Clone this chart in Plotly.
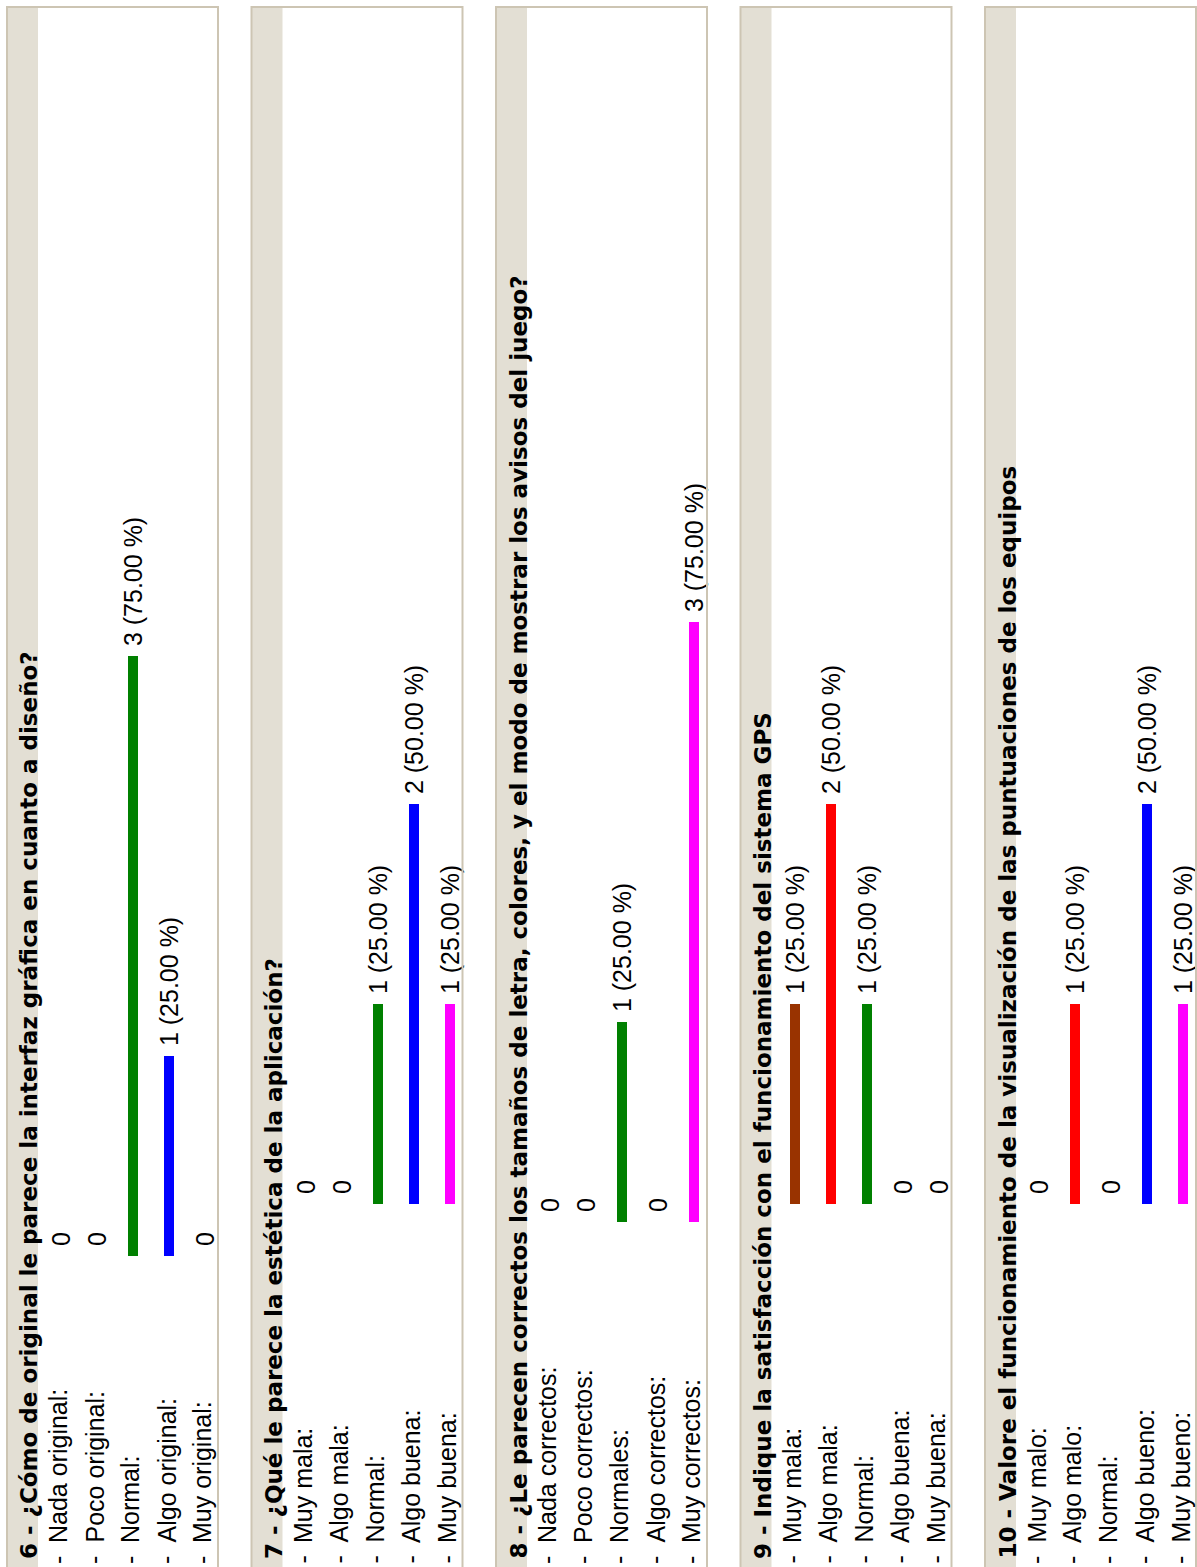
import plotly.graph_objects as go

W, H = 1197, 1567

# ---------------- data ----------------
titles = [
    "6 - ¿Cómo de original le parece la interfaz gráfica en cuanto a diseño?",
    "7 - ¿Qué le parece la estética de la aplicación?",
    "8 - ¿Le parecen correctos los tamaños de letra, colores, y el modo de mostrar los avisos del juego?",
    "9 - Indique la satisfacción con el funcionamiento del sistema GPS",
    "10 - Valore el funcionamiento de la visualización de las puntuaciones de los equipos",
]
cats_q6 = ["Nada original:", "Poco original:", "Normal:", "Algo original:", "Muy original:"]
cats_q7 = ["Muy mala:", "Algo mala:", "Normal:", "Algo buena:", "Muy buena:"]
cats_q8 = ["Nada correctos:", "Poco correctos:", "Normales:", "Algo correctos:", "Muy correctos:"]
cats_q9 = ["Muy mala:", "Algo mala:", "Normal:", "Algo buena:", "Muy buena:"]
cats_q10 = ["Muy malo:", "Algo malo:", "Normal:", "Algo bueno:", "Muy bueno:"]

counts_q6 = [0, 0, 3, 1, 0]
counts_q7 = [0, 0, 1, 2, 1]
counts_q8 = [0, 0, 1, 0, 3]
counts_q9 = [1, 2, 1, 0, 0]
counts_q10 = [0, 1, 0, 2, 1]

total_responses = 4
bar_colors = ["#993300", "#FF0000", "#008000", "#0000FF", "#FF00FF"]

all_cats = [cats_q6, cats_q7, cats_q8, cats_q9, cats_q10]
all_counts = [counts_q6, counts_q7, counts_q8, counts_q9, counts_q10]

# ---------------- layout geometry (pixels) ----------------
panel_left = [7, 251.5, 496, 740.5, 985]
panel_w = 211
band_w = 31
base_px = [1256, 1204, 1222, 1204, 1204]
px_per_unit = 200.0
cat_first = 54.0
cat_step = 36.0
label_bottom_px = 1545
dash_px = 1560
title_bottom_px = 1561

LABEL_FONT = dict(family="Liberation Sans, Arial, sans-serif", size=25, color="#000000")
TITLE_FONT = dict(family="DejaVu Sans, Verdana, sans-serif", size=23, color="#000000")
NB = "\u00a0"

def py(p):
    return 1 - p / H

fig = go.Figure()
shapes = []
annotations = []
layout_axes = {}

for i in range(5):
    n = i + 1
    xa = "x" if n == 1 else f"x{n}"
    ya = "y" if n == 1 else f"y{n}"
    L = panel_left[i]
    cats = all_cats[i]
    vals = all_counts[i]
    texts = []
    for v in vals:
        if v == 0:
            texts.append(NB + "0")
        else:
            texts.append(f"{NB}{v} ({v / total_responses * 100:.2f} %)")
    fig.add_trace(go.Bar(
        x=cats, y=vals, marker=dict(color=bar_colors, line=dict(width=0)),
        width=0.28, text=texts, textposition="outside", textangle=-90,
        textfont=LABEL_FONT, constraintext="none", cliponaxis=False,
        xaxis=xa, yaxis=ya, hoverinfo="skip", showlegend=False,
    ))
    x_lo = -cat_first / cat_step
    x_hi = (panel_w - cat_first) / cat_step
    B = base_px[i]
    layout_axes["xaxis" if n == 1 else f"xaxis{n}"] = dict(
        domain=[L / W, (L + panel_w) / W], range=[x_lo, x_hi], visible=False,
        anchor=ya, type="category", fixedrange=True)
    layout_axes["yaxis" if n == 1 else f"yaxis{n}"] = dict(
        domain=[0, 1], range=[-(H - B) / px_per_unit, B / px_per_unit], visible=False,
        anchor=xa, fixedrange=True)

    # panel frame and title band
    shapes.append(dict(type="rect", xref="paper", yref="paper",
                       x0=L / W, x1=(L + band_w) / W, y0=py(1590), y1=py(7),
                       fillcolor="#E3DFD4", line=dict(width=0), layer="below"))
    shapes.append(dict(type="rect", xref="paper", yref="paper",
                       x0=L / W, x1=(L + panel_w) / W, y0=py(1590), y1=py(7),
                       fillcolor="rgba(0,0,0,0)", line=dict(color="#CDC5B3", width=2),
                       layer="above"))
    annotations.append(dict(text=f"<b>{titles[i]}</b>", xref="paper", yref="paper",
                            x=(L + 22) / W, y=py(title_bottom_px), xanchor="center",
                            yanchor="bottom", textangle=-90, showarrow=False,
                            font=TITLE_FONT))
    for c in cats:
        annotations.append(dict(text=c, xref=xa, yref="paper", x=c, y=py(label_bottom_px),
                                xanchor="center", yanchor="bottom", textangle=-90,
                                showarrow=False, font=LABEL_FONT, xshift=-3))
        annotations.append(dict(text="-", xref=xa, yref="paper", x=c, y=py(dash_px),
                                xanchor="center", yanchor="middle", textangle=-90,
                                showarrow=False, font=LABEL_FONT, xshift=-3))

fig.update_layout(
    width=W, height=H, margin=dict(l=0, r=0, t=0, b=0),
    paper_bgcolor="#FFFFFF", plot_bgcolor="rgba(0,0,0,0)",
    shapes=shapes, annotations=annotations, bargap=0, showlegend=False,
    **layout_axes,
)

fig.write_html("out.html", config={"displayModeBar": False})
